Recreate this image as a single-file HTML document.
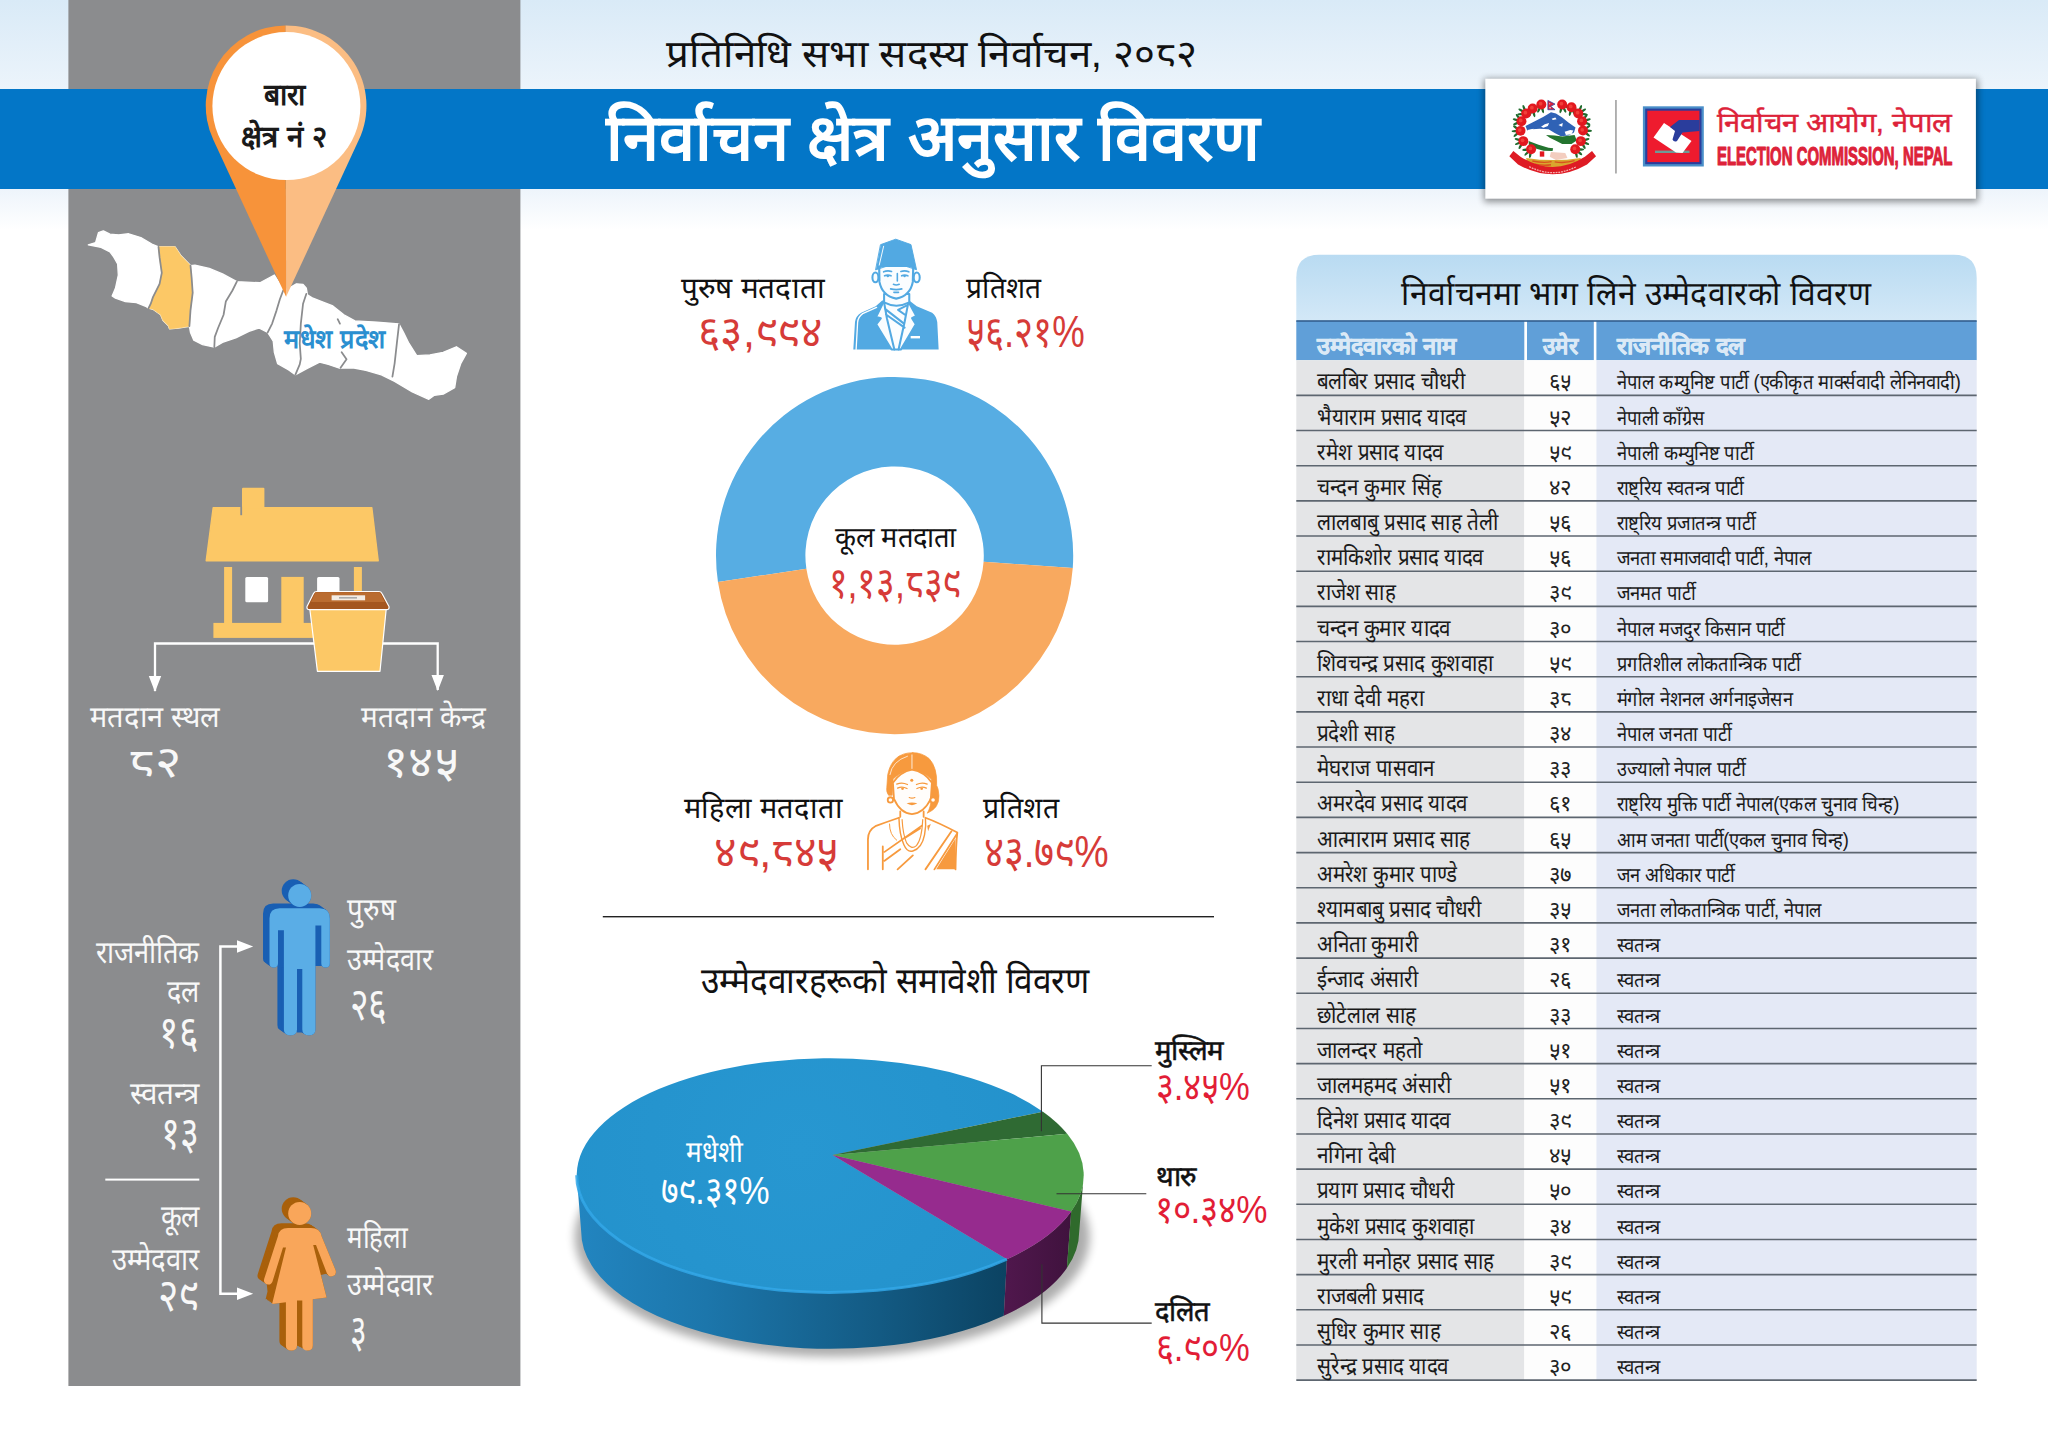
<!DOCTYPE html>
<html lang="ne">
<head>
<meta charset="utf-8">
<title>निर्वाचन क्षेत्र अनुसार विवरण - बारा क्षेत्र नं २</title>
<style>
html,body{margin:0;padding:0;background:#fff;}
body{width:2048px;height:1448px;overflow:hidden;font-family:"Liberation Sans",sans-serif;}
svg{display:block;font-family:"Liberation Sans",sans-serif;}
text{white-space:pre;}
</style>
</head>
<body>
<svg width="2048" height="1448" viewBox="0 0 2048 1448" lang="ne">
<!-- background -->
<defs>
<linearGradient id="gTop" x1="0" y1="0" x2="0" y2="1"><stop offset="0" stop-color="#d9eaf7"/><stop offset="1" stop-color="#ecf4fb"/></linearGradient>
<linearGradient id="gBot" x1="0" y1="0" x2="0" y2="1"><stop offset="0" stop-color="#edf4fb"/><stop offset="1" stop-color="#ffffff"/></linearGradient>
</defs>
<rect x="0" y="0" width="2048" height="1448" fill="#ffffff"/>
<rect x="0" y="0" width="2048" height="90" fill="url(#gTop)"/>
<rect x="0" y="188" width="2048" height="42" fill="url(#gBot)"/>
<rect x="68.4" y="0" width="452" height="1386" fill="#8b8c8e"/>
<rect x="0" y="89" width="2048" height="100" fill="#0376c7"/>
<!-- header_text -->
<text x="666.3" y="66.6" font-size="38.2" fill="#111" textLength="531.0" lengthAdjust="spacingAndGlyphs">प्रतिनिधि सभा सदस्य निर्वाचन, २०८२</text>
<text x="605.8" y="159.7" font-size="64.5" fill="#ffffff" font-weight="bold" textLength="654.8" lengthAdjust="spacingAndGlyphs">निर्वाचन क्षेत्र अनुसार विवरण</text>
<!-- table -->
<defs><linearGradient id="gTh" x1="0" y1="0" x2="0" y2="1"><stop offset="0" stop-color="#b9dbf2"/><stop offset="1" stop-color="#d3e8f7"/></linearGradient></defs>
<path d="M1296.3,321 V277.8 Q1296.3,254.8 1319.3,254.8 H1953.7 Q1976.7,254.8 1976.7,277.8 V321 Z" fill="url(#gTh)"/>
<text x="1401.3" y="305.0" font-size="33.5" fill="#111" textLength="469.3" lengthAdjust="spacingAndGlyphs">निर्वाचनमा भाग लिने उम्मेदवारको विवरण</text>
<rect x="1296.3" y="320.9" width="228.0" height="39.3" fill="#609fd8"/>
<rect x="1527.0" y="320.9" width="66.8" height="39.3" fill="#609fd8"/>
<rect x="1596.4" y="320.9" width="380.3" height="39.3" fill="#609fd8"/>
<rect x="1296.3" y="320.2" width="680.4" height="1.6" fill="#335f8e"/>
<text x="1316.9" y="354.3" font-size="23.5" fill="#dbe9f6" font-weight="bold" textLength="138.9" lengthAdjust="spacingAndGlyphs" stroke="#dbe9f6" stroke-width="0.5">उम्मेदवारको नाम</text>
<text x="1543.0" y="354.3" font-size="23.5" fill="#dbe9f6" font-weight="bold" textLength="35.1" lengthAdjust="spacingAndGlyphs" stroke="#dbe9f6" stroke-width="0.5">उमेर</text>
<text x="1616.8" y="354.3" font-size="23.5" fill="#dbe9f6" font-weight="bold" textLength="128.0" lengthAdjust="spacingAndGlyphs" stroke="#dbe9f6" stroke-width="0.5">राजनीतिक दल</text>
<rect x="1296.3" y="360.2" width="228.0" height="1019.9" fill="#e4e5e7"/>
<rect x="1524.3" y="360.2" width="72.1" height="1019.9" fill="#fdfdfd"/>
<rect x="1596.4" y="360.2" width="380.3" height="1019.9" fill="#e4e9f6"/>
<path d="M1296.3,395.37H1976.7M1296.3,430.54H1976.7M1296.3,465.71H1976.7M1296.3,500.88H1976.7M1296.3,536.05H1976.7M1296.3,571.22H1976.7M1296.3,606.39H1976.7M1296.3,641.56H1976.7M1296.3,676.73H1976.7M1296.3,711.90H1976.7M1296.3,747.07H1976.7M1296.3,782.24H1976.7M1296.3,817.41H1976.7M1296.3,852.58H1976.7M1296.3,887.75H1976.7M1296.3,922.92H1976.7M1296.3,958.09H1976.7M1296.3,993.26H1976.7M1296.3,1028.43H1976.7M1296.3,1063.60H1976.7M1296.3,1098.77H1976.7M1296.3,1133.94H1976.7M1296.3,1169.11H1976.7M1296.3,1204.28H1976.7M1296.3,1239.45H1976.7M1296.3,1274.62H1976.7M1296.3,1309.79H1976.7M1296.3,1344.96H1976.7M1296.3,1380.13H1976.7" stroke="#5d6670" stroke-width="1.6" fill="none"/>
<text x="1316.9" y="389.4" font-size="23.5" fill="#1a1a1a" textLength="148.4" lengthAdjust="spacingAndGlyphs">बलबिर प्रसाद चौधरी</text>
<text x="1549.3" y="389.4" font-size="22.0" fill="#222" textLength="22.2" lengthAdjust="spacingAndGlyphs">६५</text>
<text x="1616.8" y="389.4" font-size="20.5" fill="#1a1a1a" textLength="344.1" lengthAdjust="spacingAndGlyphs">नेपाल कम्युनिष्ट पार्टी (एकीकृत मार्क्सवादी लेनिनवादी)</text>
<text x="1316.9" y="424.6" font-size="23.5" fill="#1a1a1a" textLength="149.6" lengthAdjust="spacingAndGlyphs">भैयाराम प्रसाद यादव</text>
<text x="1549.3" y="424.6" font-size="22.0" fill="#222" textLength="22.2" lengthAdjust="spacingAndGlyphs">५२</text>
<text x="1616.8" y="424.6" font-size="20.5" fill="#1a1a1a" textLength="88.0" lengthAdjust="spacingAndGlyphs">नेपाली काँग्रेस</text>
<text x="1316.9" y="459.7" font-size="23.5" fill="#1a1a1a" textLength="126.8" lengthAdjust="spacingAndGlyphs">रमेश प्रसाद यादव</text>
<text x="1549.3" y="459.7" font-size="22.0" fill="#222" textLength="22.2" lengthAdjust="spacingAndGlyphs">५९</text>
<text x="1616.8" y="459.7" font-size="20.5" fill="#1a1a1a" textLength="136.3" lengthAdjust="spacingAndGlyphs">नेपाली कम्युनिष्ट पार्टी</text>
<text x="1316.9" y="494.9" font-size="23.5" fill="#1a1a1a" textLength="124.5" lengthAdjust="spacingAndGlyphs">चन्दन कुमार सिंह</text>
<text x="1549.3" y="494.9" font-size="22.0" fill="#222" textLength="22.2" lengthAdjust="spacingAndGlyphs">४२</text>
<text x="1616.8" y="494.9" font-size="20.5" fill="#1a1a1a" textLength="127.1" lengthAdjust="spacingAndGlyphs">राष्ट्रिय स्वतन्त्र पार्टी</text>
<text x="1316.9" y="530.1" font-size="23.5" fill="#1a1a1a" textLength="181.0" lengthAdjust="spacingAndGlyphs">लालबाबु प्रसाद साह तेली</text>
<text x="1549.3" y="530.1" font-size="22.0" fill="#222" textLength="22.2" lengthAdjust="spacingAndGlyphs">५६</text>
<text x="1616.8" y="530.1" font-size="20.5" fill="#1a1a1a" textLength="138.3" lengthAdjust="spacingAndGlyphs">राष्ट्रिय प्रजातन्त्र पार्टी</text>
<text x="1316.9" y="565.2" font-size="23.5" fill="#1a1a1a" textLength="166.8" lengthAdjust="spacingAndGlyphs">रामकिशोर प्रसाद यादव</text>
<text x="1549.3" y="565.2" font-size="22.0" fill="#222" textLength="22.2" lengthAdjust="spacingAndGlyphs">५६</text>
<text x="1616.8" y="565.2" font-size="20.5" fill="#1a1a1a" textLength="194.7" lengthAdjust="spacingAndGlyphs">जनता समाजवादी पार्टी, नेपाल</text>
<text x="1316.9" y="600.4" font-size="23.5" fill="#1a1a1a" textLength="78.3" lengthAdjust="spacingAndGlyphs">राजेश साह</text>
<text x="1549.3" y="600.4" font-size="22.0" fill="#222" textLength="22.2" lengthAdjust="spacingAndGlyphs">३९</text>
<text x="1616.8" y="600.4" font-size="20.5" fill="#1a1a1a" textLength="78.3" lengthAdjust="spacingAndGlyphs">जनमत पार्टी</text>
<text x="1316.9" y="635.6" font-size="23.5" fill="#1a1a1a" textLength="133.9" lengthAdjust="spacingAndGlyphs">चन्दन कुमार यादव</text>
<text x="1549.3" y="635.6" font-size="22.0" fill="#222" textLength="22.2" lengthAdjust="spacingAndGlyphs">३०</text>
<text x="1616.8" y="635.6" font-size="20.5" fill="#1a1a1a" textLength="167.8" lengthAdjust="spacingAndGlyphs">नेपाल मजदुर किसान पार्टी</text>
<text x="1316.9" y="670.8" font-size="23.5" fill="#1a1a1a" textLength="176.2" lengthAdjust="spacingAndGlyphs">शिवचन्द्र प्रसाद कुशवाहा</text>
<text x="1549.3" y="670.8" font-size="22.0" fill="#222" textLength="22.2" lengthAdjust="spacingAndGlyphs">५९</text>
<text x="1616.8" y="670.8" font-size="20.5" fill="#1a1a1a" textLength="183.6" lengthAdjust="spacingAndGlyphs">प्रगतिशील लोकतान्त्रिक पार्टी</text>
<text x="1316.9" y="705.9" font-size="23.5" fill="#1a1a1a" textLength="107.2" lengthAdjust="spacingAndGlyphs">राधा देवी महरा</text>
<text x="1549.3" y="705.9" font-size="22.0" fill="#222" textLength="22.2" lengthAdjust="spacingAndGlyphs">३८</text>
<text x="1616.8" y="705.9" font-size="20.5" fill="#1a1a1a" textLength="175.8" lengthAdjust="spacingAndGlyphs">मंगोल नेशनल अर्गनाइजेसन</text>
<text x="1316.9" y="741.1" font-size="23.5" fill="#1a1a1a" textLength="77.3" lengthAdjust="spacingAndGlyphs">प्रदेशी साह</text>
<text x="1549.3" y="741.1" font-size="22.0" fill="#222" textLength="22.2" lengthAdjust="spacingAndGlyphs">३४</text>
<text x="1616.8" y="741.1" font-size="20.5" fill="#1a1a1a" textLength="114.5" lengthAdjust="spacingAndGlyphs">नेपाल जनता पार्टी</text>
<text x="1316.9" y="776.3" font-size="23.5" fill="#1a1a1a" textLength="117.7" lengthAdjust="spacingAndGlyphs">मेघराज पासवान</text>
<text x="1549.3" y="776.3" font-size="22.0" fill="#222" textLength="22.2" lengthAdjust="spacingAndGlyphs">३३</text>
<text x="1616.8" y="776.3" font-size="20.5" fill="#1a1a1a" textLength="128.4" lengthAdjust="spacingAndGlyphs">उज्यालो नेपाल पार्टी</text>
<text x="1316.9" y="811.4" font-size="23.5" fill="#1a1a1a" textLength="150.7" lengthAdjust="spacingAndGlyphs">अमरदेव प्रसाद यादव</text>
<text x="1549.3" y="811.4" font-size="22.0" fill="#222" textLength="22.2" lengthAdjust="spacingAndGlyphs">६१</text>
<text x="1616.8" y="811.4" font-size="20.5" fill="#1a1a1a" textLength="282.6" lengthAdjust="spacingAndGlyphs">राष्ट्रिय मुक्ति पार्टी नेपाल(एकल चुनाव चिन्ह)</text>
<text x="1316.9" y="846.6" font-size="23.5" fill="#1a1a1a" textLength="152.9" lengthAdjust="spacingAndGlyphs">आत्माराम प्रसाद साह</text>
<text x="1549.3" y="846.6" font-size="22.0" fill="#222" textLength="22.2" lengthAdjust="spacingAndGlyphs">६५</text>
<text x="1616.8" y="846.6" font-size="20.5" fill="#1a1a1a" textLength="232.1" lengthAdjust="spacingAndGlyphs">आम जनता पार्टी(एकल चुनाव चिन्ह)</text>
<text x="1316.9" y="881.8" font-size="23.5" fill="#1a1a1a" textLength="140.7" lengthAdjust="spacingAndGlyphs">अमरेश कुमार पाण्डे</text>
<text x="1549.3" y="881.8" font-size="22.0" fill="#222" textLength="22.2" lengthAdjust="spacingAndGlyphs">३७</text>
<text x="1616.8" y="881.8" font-size="20.5" fill="#1a1a1a" textLength="117.7" lengthAdjust="spacingAndGlyphs">जन अधिकार पार्टी</text>
<text x="1316.9" y="917.0" font-size="23.5" fill="#1a1a1a" textLength="164.3" lengthAdjust="spacingAndGlyphs">श्यामबाबु प्रसाद चौधरी</text>
<text x="1549.3" y="917.0" font-size="22.0" fill="#222" textLength="22.2" lengthAdjust="spacingAndGlyphs">३५</text>
<text x="1616.8" y="917.0" font-size="20.5" fill="#1a1a1a" textLength="204.8" lengthAdjust="spacingAndGlyphs">जनता लोकतान्त्रिक पार्टी, नेपाल</text>
<text x="1316.9" y="952.1" font-size="23.5" fill="#1a1a1a" textLength="101.7" lengthAdjust="spacingAndGlyphs">अनिता कुमारी</text>
<text x="1549.3" y="952.1" font-size="22.0" fill="#222" textLength="22.2" lengthAdjust="spacingAndGlyphs">३१</text>
<text x="1616.8" y="952.1" font-size="20.5" fill="#1a1a1a" textLength="43.3" lengthAdjust="spacingAndGlyphs">स्वतन्त्र</text>
<text x="1316.9" y="987.3" font-size="23.5" fill="#1a1a1a" textLength="101.3" lengthAdjust="spacingAndGlyphs">ईन्जाद अंसारी</text>
<text x="1549.3" y="987.3" font-size="22.0" fill="#222" textLength="22.2" lengthAdjust="spacingAndGlyphs">२६</text>
<text x="1616.8" y="987.3" font-size="20.5" fill="#1a1a1a" textLength="43.3" lengthAdjust="spacingAndGlyphs">स्वतन्त्र</text>
<text x="1316.9" y="1022.5" font-size="23.5" fill="#1a1a1a" textLength="98.5" lengthAdjust="spacingAndGlyphs">छोटेलाल साह</text>
<text x="1549.3" y="1022.5" font-size="22.0" fill="#222" textLength="22.2" lengthAdjust="spacingAndGlyphs">३३</text>
<text x="1616.8" y="1022.5" font-size="20.5" fill="#1a1a1a" textLength="43.3" lengthAdjust="spacingAndGlyphs">स्वतन्त्र</text>
<text x="1316.9" y="1057.6" font-size="23.5" fill="#1a1a1a" textLength="105.4" lengthAdjust="spacingAndGlyphs">जालन्दर महतो</text>
<text x="1549.3" y="1057.6" font-size="22.0" fill="#222" textLength="22.2" lengthAdjust="spacingAndGlyphs">५१</text>
<text x="1616.8" y="1057.6" font-size="20.5" fill="#1a1a1a" textLength="43.3" lengthAdjust="spacingAndGlyphs">स्वतन्त्र</text>
<text x="1316.9" y="1092.8" font-size="23.5" fill="#1a1a1a" textLength="134.4" lengthAdjust="spacingAndGlyphs">जालमहमद अंसारी</text>
<text x="1549.3" y="1092.8" font-size="22.0" fill="#222" textLength="22.2" lengthAdjust="spacingAndGlyphs">५१</text>
<text x="1616.8" y="1092.8" font-size="20.5" fill="#1a1a1a" textLength="43.3" lengthAdjust="spacingAndGlyphs">स्वतन्त्र</text>
<text x="1316.9" y="1128.0" font-size="23.5" fill="#1a1a1a" textLength="133.7" lengthAdjust="spacingAndGlyphs">दिनेश प्रसाद यादव</text>
<text x="1549.3" y="1128.0" font-size="22.0" fill="#222" textLength="22.2" lengthAdjust="spacingAndGlyphs">३९</text>
<text x="1616.8" y="1128.0" font-size="20.5" fill="#1a1a1a" textLength="43.3" lengthAdjust="spacingAndGlyphs">स्वतन्त्र</text>
<text x="1316.9" y="1163.1" font-size="23.5" fill="#1a1a1a" textLength="78.3" lengthAdjust="spacingAndGlyphs">नगिना देबी</text>
<text x="1549.3" y="1163.1" font-size="22.0" fill="#222" textLength="22.2" lengthAdjust="spacingAndGlyphs">४५</text>
<text x="1616.8" y="1163.1" font-size="20.5" fill="#1a1a1a" textLength="43.3" lengthAdjust="spacingAndGlyphs">स्वतन्त्र</text>
<text x="1316.9" y="1198.3" font-size="23.5" fill="#1a1a1a" textLength="137.8" lengthAdjust="spacingAndGlyphs">प्रयाग प्रसाद चौधरी</text>
<text x="1549.3" y="1198.3" font-size="22.0" fill="#222" textLength="22.2" lengthAdjust="spacingAndGlyphs">५०</text>
<text x="1616.8" y="1198.3" font-size="20.5" fill="#1a1a1a" textLength="43.3" lengthAdjust="spacingAndGlyphs">स्वतन्त्र</text>
<text x="1316.9" y="1233.5" font-size="23.5" fill="#1a1a1a" textLength="157.2" lengthAdjust="spacingAndGlyphs">मुकेश प्रसाद कुशवाहा</text>
<text x="1549.3" y="1233.5" font-size="22.0" fill="#222" textLength="22.2" lengthAdjust="spacingAndGlyphs">३४</text>
<text x="1616.8" y="1233.5" font-size="20.5" fill="#1a1a1a" textLength="43.3" lengthAdjust="spacingAndGlyphs">स्वतन्त्र</text>
<text x="1316.9" y="1268.7" font-size="23.5" fill="#1a1a1a" textLength="176.5" lengthAdjust="spacingAndGlyphs">मुरली मनोहर प्रसाद साह</text>
<text x="1549.3" y="1268.7" font-size="22.0" fill="#222" textLength="22.2" lengthAdjust="spacingAndGlyphs">३९</text>
<text x="1616.8" y="1268.7" font-size="20.5" fill="#1a1a1a" textLength="43.3" lengthAdjust="spacingAndGlyphs">स्वतन्त्र</text>
<text x="1316.9" y="1303.8" font-size="23.5" fill="#1a1a1a" textLength="106.8" lengthAdjust="spacingAndGlyphs">राजबली प्रसाद</text>
<text x="1549.3" y="1303.8" font-size="22.0" fill="#222" textLength="22.2" lengthAdjust="spacingAndGlyphs">५९</text>
<text x="1616.8" y="1303.8" font-size="20.5" fill="#1a1a1a" textLength="43.3" lengthAdjust="spacingAndGlyphs">स्वतन्त्र</text>
<text x="1316.9" y="1339.0" font-size="23.5" fill="#1a1a1a" textLength="123.1" lengthAdjust="spacingAndGlyphs">सुधिर कुमार साह</text>
<text x="1549.3" y="1339.0" font-size="22.0" fill="#222" textLength="22.2" lengthAdjust="spacingAndGlyphs">२६</text>
<text x="1616.8" y="1339.0" font-size="20.5" fill="#1a1a1a" textLength="43.3" lengthAdjust="spacingAndGlyphs">स्वतन्त्र</text>
<text x="1316.9" y="1374.2" font-size="23.5" fill="#1a1a1a" textLength="131.7" lengthAdjust="spacingAndGlyphs">सुरेन्द्र प्रसाद यादव</text>
<text x="1549.3" y="1374.2" font-size="22.0" fill="#222" textLength="22.2" lengthAdjust="spacingAndGlyphs">३०</text>
<text x="1616.8" y="1374.2" font-size="20.5" fill="#1a1a1a" textLength="43.3" lengthAdjust="spacingAndGlyphs">स्वतन्त्र</text>
<!-- nepal_map -->
<g transform="translate(68,200) scale(0.2207)" stroke-linejoin="round">
<path d="M92,203 L125,193 L138,148 L160,140 L190,155 L230,158 L275,153 L330,170 L380,200 L410,212 L485,212 L510,250 L555,297 L575,295 L640,310 L700,335 L765,370 L870,375 L935,340 L960,380 L975,410 L1000,400 L1035,380 L1065,382 L1080,400 L1085,430 L1110,445 L1150,460 L1200,480 L1250,520 L1300,548 L1400,553 L1500,562 L1520,600 L1545,650 L1580,705 L1640,702 L1700,690 L1760,665 L1805,695 L1780,740 L1760,800 L1752,850 L1700,880 L1660,885 L1635,903 L1560,870 L1480,822 L1420,792 L1350,772 L1290,760 L1230,762 L1180,745 L1140,735 L1080,765 L1030,792 L1000,770 L950,742 L935,690 L930,640 L905,600 L865,580 L820,595 L760,625 L700,645 L663,667 L610,655 L570,635 L555,600 L550,572 L500,580 L460,584 L455,570 L430,545 L420,520 L385,495 L365,490 L355,483 L310,465 L260,460 L215,445 L200,435 L215,400 L228,340 L225,290 L205,255 L190,235 L150,215 Z" fill="#ffffff" stroke="#ffffff" stroke-width="6"/>
<path d="M410,212 L485,212 L510,250 L555,297 L560,350 L565,420 L555,500 L550,572 L500,580 L460,584 L455,570 L430,545 L420,520 L385,495 L365,490 L375,470 L385,440 L415,380 L425,330 L415,260 Z" fill="#fcc866" stroke="#fcc866" stroke-width="3"/>
<path d="M410,212 L415,260 L425,330 L415,380 L385,440 L375,470 L365,490 M555,297 L560,350 L565,420 L555,500 L550,572 M765,370 L745,410 L715,460 L705,520 L680,580 L665,620 L663,667 M975,410 L960,450 L945,500 L925,560 L905,600 M1080,425 L1065,470 L1055,560 L1050,650 L1055,720 L1050,745 L1030,792 M1222,540 L1232,560 M1240,690 L1262,722 L1235,760 M1500,562 L1490,650 L1480,740 L1470,800" fill="none" stroke="#8b8c8e" stroke-width="8" stroke-linecap="round"/>
</g>
<text x="284.3" y="348.3" font-size="26.0" fill="#2b8fd0" font-weight="bold" textLength="101.5" lengthAdjust="spacingAndGlyphs">मधेश प्रदेश</text>
<!-- pin -->
<path d="M285.6,25.39999999999999 A80.4,80.4 0 0 0 213.2,139.6 L286.1,296.8 Z" fill="#f7933a"/>
<path d="M285.6,25.39999999999999 A80.4,80.4 0 0 1 359.0,139.6 L286.1,296.8 Z" fill="#fbbd83"/>
<circle cx="286.40000000000003" cy="106.1" r="74.0" fill="#ffffff"/>
<text x="263.6" y="105.3" font-size="30.0" fill="#1a1a1a" font-weight="600" textLength="42.4" lengthAdjust="spacingAndGlyphs">बारा</text>
<text x="241.0" y="146.8" font-size="30.0" fill="#1a1a1a" font-weight="600" textLength="86.6" lengthAdjust="spacingAndGlyphs">क्षेत्र नं २</text>
<!-- house -->
<g fill="#fcc866">
<rect x="242" y="487.8" width="22.4" height="22" rx="1"/>
<path d="M213.2,507.6 H371.8 L378.2,560.8 H206.2 Z" stroke="#fcc866" stroke-width="1.4" stroke-linejoin="round"/>
<rect x="224.1" y="567" width="8" height="57"/>
<rect x="353.9" y="567" width="8" height="30"/>
<rect x="281.3" y="576.9" width="22.4" height="47"/>
<rect x="213.4" y="622.9" width="101" height="15"/>
</g>
<rect x="240.3" y="506.6" width="1.8" height="8.6" fill="#8b8c8e"/>
<rect x="245.3" y="576.9" width="22.8" height="25.3" rx="1.5" fill="#ffffff"/>
<rect x="317.1" y="576.9" width="22.4" height="20" rx="1.5" fill="#ffffff"/>
<path d="M155,691 V643.5 H320 M383,643.5 H437.7 V690" fill="none" stroke="#ffffff" stroke-width="2.3"/>
<path d="M148.8,676 H161.2 L155,692 Z M431.5,675 H443.9 L437.7,691 Z" fill="#ffffff"/>
<path d="M309.8,609 H386.2 L380,671.3 H317.4 Z" fill="#fcc866" stroke="#ffffff" stroke-width="1.2" stroke-linejoin="round"/>
<path d="M316.5,591.5 H379 Q381,591.5 382,593.5 L389,606.5 Q389.6,609.6 386.5,609.6 H309.5 Q306.4,609.6 307,606.5 L313.5,593.5 Q314.5,591.5 316.5,591.5 Z" fill="#a4561f" stroke="#ffffff" stroke-width="1.2" stroke-linejoin="round"/>
<path d="M315.5,592.3 H380 L384.8,602 H311 Z" fill="#ba6c30"/>
<rect x="331.6" y="595.3" width="33.5" height="5" fill="#f3ece4"/>
<rect x="339" y="597" width="18" height="1.6" fill="#a9a9a9"/>
<text x="89.9" y="727.3" font-size="29.7" fill="#f8f8f8" textLength="129.8" lengthAdjust="spacingAndGlyphs">मतदान स्थल</text>
<text x="361.4" y="727.3" font-size="29.7" fill="#f8f8f8" textLength="124.3" lengthAdjust="spacingAndGlyphs">मतदान केन्द्र</text>
<text x="128.0" y="777.0" font-size="44.0" fill="#f8f8f8" textLength="53.0" lengthAdjust="spacingAndGlyphs">८२</text>
<text x="383.0" y="777.0" font-size="44.0" fill="#f8f8f8" textLength="76.0" lengthAdjust="spacingAndGlyphs">१४५</text>
<!-- people -->
<defs>
<g id="manS"><circle cx="299.7" cy="895.4" r="11.5"/><path d="M269.5,918.4 Q269.5,908.2 279.7,908.2 H319.6 Q329.8,908.2 329.8,918.4 V963.2 Q329.8,967.5 325.55,967.5 Q321.3,967.5 321.3,963.2 V925.6 H315.4 V1029.5 Q315.4,1035.3 309,1035.3 Q302.3,1035.3 302.3,1029.5 V968.9 H297 V1029.5 Q297,1035.3 290.5,1035.3 Q283.9,1035.3 283.9,1029.5 V930.2 H278 V963.2 Q278,967.5 273.75,967.5 Q269.5,967.5 269.5,963.2 Z M278,930.2 H283.9 V967 H278 Z M315.4,925.6 H321.3 V966 H315.4 Z M297,968.9 H302.3 V1032.5 H297 Z"/></g>
<g id="womS"><circle cx="299.7" cy="1213.4" r="11.5"/><path d="M278,1236 Q279,1227.9 288,1227.9 H311 Q320,1227.9 321.5,1236 L335.5,1270 Q337,1274.5 333,1276 Q329,1277.5 327,1273.5 L321,1275 L326.6,1297.4 L312.8,1299.2 V1345.5 Q312.8,1350.5 307.5,1350.5 L297,1345.5 Q297,1350.5 291.4,1350.5 Q285.9,1350.5 285.9,1345.5 V1302.2 L272.1,1303.9 L274,1296 L272.5,1281.5 Q271,1285.5 267,1284.3 Q263,1283 264.3,1278.5 Z"/></g>
</defs>
<g fill="#195fb3"><use href="#manS" x="-6.5" y="-4.6"/><use href="#manS" x="-5.2" y="-3.7"/><use href="#manS" x="-3.9" y="-2.8"/><use href="#manS" x="-2.6" y="-1.8"/><use href="#manS" x="-1.3" y="-0.9"/><use href="#manS" x="0" y="0"/></g>
<circle cx="299.7" cy="895.4" r="11.5" fill="#5aade6"/><path d="M269.5,918.4 Q269.5,908.2 279.7,908.2 H319.6 Q329.8,908.2 329.8,918.4 V963.2 Q329.8,967.5 325.55,967.5 Q321.3,967.5 321.3,963.2 V925.6 H315.4 V1029.5 Q315.4,1035.3 309,1035.3 Q302.3,1035.3 302.3,1029.5 V968.9 H297 V1029.5 Q297,1035.3 290.5,1035.3 Q283.9,1035.3 283.9,1029.5 V930.2 H278 V963.2 Q278,967.5 273.75,967.5 Q269.5,967.5 269.5,963.2 Z" fill="#5aade6"/>
<g fill="#a9600b"><use href="#womS" x="-6.5" y="-4.6"/><use href="#womS" x="-5.2" y="-3.7"/><use href="#womS" x="-3.9" y="-2.8"/><use href="#womS" x="-2.6" y="-1.8"/><use href="#womS" x="-1.3" y="-0.9"/><use href="#womS" x="0" y="0"/></g>
<circle cx="299.7" cy="1213.4" r="11.5" fill="#f9a65a"/><path d="M278,1236 Q279,1227.9 288,1227.9 H311 Q320,1227.9 321.5,1236 L335.5,1270 Q337,1274.5 333,1276 Q329,1277.5 327,1273.5 L316,1245 H313.2 L326.6,1297.4 L312.8,1299.2 V1345.5 Q312.8,1350.5 307.5,1350.5 Q302.3,1350.5 302.3,1345.5 V1300.6 H297 V1345.5 Q297,1350.5 291.4,1350.5 Q285.9,1350.5 285.9,1345.5 V1302.2 L272.1,1303.9 L286,1247.5 H283 L272.5,1281.5 Q271,1285.5 267,1284.3 Q263,1283 264.3,1278.5 Z" fill="#f9a65a"/>
<path d="M240,946.5 H220.4 V1293.8 H240" fill="none" stroke="#ffffff" stroke-width="2.5"/>
<path d="M237,940.2 L253.2,946.5 L237,952.8 Z M237,1287.5 L253.2,1293.8 L237,1300.1 Z" fill="#ffffff"/>
<rect x="105.3" y="1178.6" width="94" height="2" fill="#ffffff"/>
<text x="96.0" y="962.6" font-size="31.4" fill="#f8f8f8" textLength="103.3" lengthAdjust="spacingAndGlyphs">राजनीतिक</text>
<text x="166.8" y="1001.7" font-size="31.4" fill="#f8f8f8" textLength="32.5" lengthAdjust="spacingAndGlyphs">दल</text>
<text x="159.4" y="1048.4" font-size="46.0" fill="#f8f8f8" textLength="39.1" lengthAdjust="spacingAndGlyphs">१६</text>
<text x="129.5" y="1104.3" font-size="31.4" fill="#f8f8f8" textLength="69.8" lengthAdjust="spacingAndGlyphs">स्वतन्त्र</text>
<text x="160.5" y="1149.0" font-size="46.0" fill="#f8f8f8" textLength="38.0" lengthAdjust="spacingAndGlyphs">१३</text>
<text x="160.5" y="1226.6" font-size="31.4" fill="#f8f8f8" textLength="38.8" lengthAdjust="spacingAndGlyphs">कूल</text>
<text x="112.0" y="1270.3" font-size="31.4" fill="#f8f8f8" textLength="87.3" lengthAdjust="spacingAndGlyphs">उम्मेदवार</text>
<text x="157.5" y="1311.3" font-size="46.0" fill="#f8f8f8" textLength="41.0" lengthAdjust="spacingAndGlyphs">२९</text>
<text x="347.0" y="920.3" font-size="31.4" fill="#f8f8f8" textLength="48.5" lengthAdjust="spacingAndGlyphs">पुरुष</text>
<text x="347.0" y="970.0" font-size="31.4" fill="#f8f8f8" textLength="85.8" lengthAdjust="spacingAndGlyphs">उम्मेदवार</text>
<text x="349.6" y="1020.4" font-size="46.0" fill="#f8f8f8" textLength="37.3" lengthAdjust="spacingAndGlyphs">२६</text>
<text x="347.0" y="1247.9" font-size="31.4" fill="#f8f8f8" textLength="60.4" lengthAdjust="spacingAndGlyphs">महिला</text>
<text x="347.0" y="1294.5" font-size="31.4" fill="#f8f8f8" textLength="85.8" lengthAdjust="spacingAndGlyphs">उम्मेदवार</text>
<text x="349.6" y="1347.0" font-size="46.0" fill="#f8f8f8" textLength="16.8" lengthAdjust="spacingAndGlyphs">३</text>
<!-- donut -->
<path d="M717.96,582.00 A178.6,178.6 0 1 1 1072.76,568.06 L983.58,561.82 A89.2,89.2 0 1 0 806.38,568.78 Z" fill="#57ade3"/>
<path d="M1072.76,568.06 A178.6,178.6 0 0 1 717.96,582.00 L806.38,568.78 A89.2,89.2 0 0 0 983.58,561.82 Z" fill="#f8a95f"/>
<text x="834.7" y="547.0" font-size="28.6" fill="#111" textLength="121.2" lengthAdjust="spacingAndGlyphs">कूल मतदाता</text>
<text x="828.7" y="598.3" font-size="44.0" fill="#d63b38" textLength="132.5" lengthAdjust="spacingAndGlyphs">१,१३,८३९</text>
<!-- voters_text -->
<text x="680.9" y="298.4" font-size="29.2" fill="#111" textLength="144.3" lengthAdjust="spacingAndGlyphs">पुरुष मतदाता</text>
<text x="698.0" y="346.8" font-size="44.0" fill="#d63b38" textLength="124.4" lengthAdjust="spacingAndGlyphs">६३,९९४</text>
<text x="965.7" y="298.4" font-size="29.2" fill="#111" textLength="76.0" lengthAdjust="spacingAndGlyphs">प्रतिशत</text>
<text x="965.7" y="346.8" font-size="44.0" fill="#d63b38" textLength="119.2" lengthAdjust="spacingAndGlyphs">५६.२१%</text>
<text x="684.1" y="818.0" font-size="29.2" fill="#111" textLength="158.4" lengthAdjust="spacingAndGlyphs">महिला मतदाता</text>
<text x="714.0" y="867.4" font-size="44.0" fill="#d63b38" textLength="125.0" lengthAdjust="spacingAndGlyphs">४९,८४५</text>
<text x="982.5" y="818.0" font-size="29.2" fill="#111" textLength="76.9" lengthAdjust="spacingAndGlyphs">प्रतिशत</text>
<text x="983.6" y="867.4" font-size="44.0" fill="#d63b38" textLength="125.1" lengthAdjust="spacingAndGlyphs">४३.७९%</text>
<!-- man_icon -->
<g transform="translate(830,225) scale(0.09326)" stroke-linejoin="round" stroke-linecap="round">
<path d="M560,810 L490,872 L335,940 Q275,975 268,1040 L250,1335 H1165 L1150,1040 Q1140,975 1095,940 L930,872 L850,810 Z" fill="#52a9e2"/>
<path d="M500,884 L350,950 Q300,985 296,1045 L280,1335" fill="none" stroke="#ffffff" stroke-width="14"/>
<path d="M575,820 L840,820 L925,975 L880,1000 L920,1065 L760,1335 L660,1335 L495,1065 L545,1000 L495,985 Z" fill="#fafdff" stroke="#52a9e2" stroke-width="22"/>
<path d="M580,830 L610,1000 L690,1335 M840,830 L800,1040 L735,1335 M590,900 L790,1055 M600,960 L800,1100 M830,860 L730,910 L800,960" fill="none" stroke="#52a9e2" stroke-width="22"/>
<rect x="865" y="1190" width="100" height="26" fill="#ffffff"/>
<path d="M580,740 V830 Q710,900 850,830 V740 Z" fill="#fafdff" stroke="#52a9e2" stroke-width="22"/>
<ellipse cx="487" cy="562" rx="32" ry="52" fill="#fafdff" stroke="#52a9e2" stroke-width="22"/>
<ellipse cx="930" cy="562" rx="32" ry="52" fill="#fafdff" stroke="#52a9e2" stroke-width="22"/>
<path d="M527,440 L530,610 Q560,760 710,790 Q860,760 888,610 L893,440 Z" fill="#fafdff" stroke="#52a9e2" stroke-width="23"/>
<path d="M545,210 L705,152 L868,210 L928,480 Q710,385 492,480 Z" fill="#52a9e2" stroke="#52a9e2" stroke-width="10"/>
<path d="M575,228 L528,430" stroke="#ffffff" stroke-width="10" fill="none"/>
<path d="M575,502 Q615,485 660,498 M760,498 Q805,485 845,502 M585,545 Q618,530 655,545 M768,545 Q800,530 835,545 M722,520 V600 M680,636 Q710,650 742,636 M650,685 Q710,700 770,685 M685,722 H735" fill="none" stroke="#52a9e2" stroke-width="17"/>
<circle cx="620" cy="548" r="13" fill="#52a9e2"/><circle cx="800" cy="548" r="13" fill="#52a9e2"/>
</g>
<!-- woman_icon -->
<g transform="translate(850,745) scale(0.0898)" stroke-linejoin="round" stroke-linecap="round" fill="none" stroke="#f79a3e" stroke-width="20">
<path d="M700,85 Q470,85 420,330 L410,470 Q400,520 430,560 L470,560 L480,380 Q560,300 690,270 Q820,300 905,380 L910,560 Q900,700 860,760 Q1000,700 990,560 Q985,480 965,450 Q975,250 880,150 Q800,85 700,85 Z" fill="#f79a3e" stroke-width="8"/>
<path d="M690,110 V275" stroke="#fff" stroke-width="9"/>
<path d="M445,330 Q470,180 640,125" stroke="#fff" stroke-width="8"/>
<path d="M478,420 L490,600 Q560,760 690,770 Q820,760 900,600 L912,420 Q830,300 690,275 Q560,300 478,420 Z" fill="#fffdfb"/>
<circle cx="688" cy="392" r="17" fill="#f79a3e" stroke="none"/>
<path d="M520,435 Q580,410 640,440 M740,440 Q800,410 860,435 M530,480 Q580,455 635,485 M745,485 Q800,455 850,480 M660,585 Q690,600 722,585" stroke-width="14"/>
<ellipse cx="585" cy="488" rx="16" ry="12" fill="#f79a3e" stroke="none"/><ellipse cx="798" cy="488" rx="16" ry="12" fill="#f79a3e" stroke="none"/>
<path d="M630,650 Q690,630 750,650 Q690,690 630,650 Z" fill="#f79a3e" stroke="none"/>
<circle cx="450" cy="612" r="30" fill="#fffdfb"/><circle cx="925" cy="612" r="30" fill="#fffdfb"/>
<path d="M560,740 V800 M820,740 V800"/>
<path d="M545,810 Q400,860 290,900 Q200,950 200,1050 V1385 M840,810 Q1000,870 1195,975 Q1180,1100 1175,1385"/>
<path d="M545,810 Q550,1000 600,1110 Q640,1200 700,1180 Q800,1150 830,1000 Q850,900 840,810" stroke-width="16"/>
<path d="M580,830 Q590,1000 630,1090 Q680,1170 740,1120 Q800,1050 810,830" stroke-width="13"/>
<path d="M440,880 Q440,1000 520,1060" stroke-width="11"/>
<path d="M365,1130 V1385 M385,1190 L800,900 M385,1290 L560,1160 M530,1385 L700,1230 M620,1030 L780,930"/>
<path d="M840,1385 L1130,960 M940,1385 L1190,990"/>
<path d="M960,1385 L1175,1040 V1385 Z" fill="#f79a3e" stroke="none"/>
<path d="M860,900 L900,880 L870,960 Z" fill="#f79a3e" stroke="none"/>
</g>
<!-- divider -->
<rect x="602.8" y="916" width="611.2" height="1.4" fill="#222"/>
<text x="700.8" y="993.4" font-size="36.0" fill="#111" textLength="388.5" lengthAdjust="spacingAndGlyphs">उम्मेदवारहरूको समावेशी विवरण</text>
<!-- pie -->
<defs>
<filter id="fPie" x="-20%" y="-40%" width="140%" height="180%"><feGaussianBlur stdDeviation="5"/></filter>
<linearGradient id="gBlueSide" gradientUnits="userSpaceOnUse" x1="577" y1="0" x2="1010" y2="0">
<stop offset="0" stop-color="#2285c0"/><stop offset="0.3" stop-color="#1c76ab"/><stop offset="0.7" stop-color="#135a83"/><stop offset="1" stop-color="#0b4261"/></linearGradient>
<linearGradient id="gPurSide" gradientUnits="userSpaceOnUse" x1="1009" y1="0" x2="1073" y2="0"><stop offset="0" stop-color="#4f174c"/><stop offset="1" stop-color="#3f123d"/></linearGradient>
<radialGradient id="gBlueTop" gradientUnits="userSpaceOnUse" cx="800" cy="1150" r="300"><stop offset="0" stop-color="#2797d1"/><stop offset="1" stop-color="#2391cb"/></radialGradient>
</defs>
<ellipse cx="832.2" cy="1236.8" rx="257.5" ry="120.0" fill="#000" opacity="0.32" filter="url(#fPie)"/>
<path d="M1006.9,1259.2 A253.5,117.0 0 0 1 576.7,1175.3 L581.2,1231.8 A249.0,117.0 0 0 0 1003.8,1315.7 Z" fill="url(#gBlueSide)"/>
<path d="M1071.2,1211.6 A253.5,117.0 0 0 1 1006.9,1259.2 L1003.8,1315.7 A249.0,117.0 0 0 0 1066.9,1268.1 Z" fill="url(#gPurSide)"/>
<path d="M1083.7,1175.3 A253.5,117.0 0 0 1 1071.2,1211.6 L1066.9,1268.1 A249.0,117.0 0 0 0 1079.2,1231.8 Z" fill="#2f6a2c"/>
<path d="M832.6,1154.9 L1006.9,1259.2 A253.5,117.0 0 1 1 1043.0,1111.7 Z" fill="url(#gBlueTop)"/>
<path d="M832.6,1154.9 L1043.0,1111.7 A253.5,117.0 0 0 1 1067.2,1133.8 Z" fill="#2f6a33"/>
<path d="M832.6,1154.9 L1067.2,1133.8 A253.5,117.0 0 0 1 1071.2,1211.6 Z" fill="#4ea14a"/>
<path d="M832.6,1154.9 L1071.2,1211.6 A253.5,117.0 0 0 1 1006.9,1259.2 Z" fill="#962b8e"/>
<path d="M1006.9,1259.2 A253.5,117.0 0 0 1 576.7,1175.3" fill="none" stroke="#31a7e8" stroke-width="3" opacity="0.85"/>
<path d="M1151.7,1065.7 H1041.4 V1131.3 M1146.3,1193.7 H1056.5 M1151.7,1323.1 H1041.9 V1264.3" fill="none" stroke="#333" stroke-width="1.1"/>
<text x="686.2" y="1162.2" font-size="29.8" fill="#ffffff" textLength="56.4" lengthAdjust="spacingAndGlyphs">मधेशी</text>
<text x="660.7" y="1203.8" font-size="39.0" fill="#ffffff" textLength="108.8" lengthAdjust="spacingAndGlyphs">७९.३१%</text>
<text x="1154.5" y="1060.4" font-size="28.3" fill="#111" textLength="69.2" lengthAdjust="spacingAndGlyphs" stroke="#111" stroke-width="0.55">मुस्लिम</text>
<text x="1156.0" y="1100.3" font-size="39.0" fill="#e21d36" textLength="93.7" lengthAdjust="spacingAndGlyphs">३.४५%</text>
<text x="1156.0" y="1185.8" font-size="28.3" fill="#111" textLength="41.0" lengthAdjust="spacingAndGlyphs" stroke="#111" stroke-width="0.55">थारु</text>
<text x="1154.5" y="1223.3" font-size="39.0" fill="#e21d36" textLength="113.0" lengthAdjust="spacingAndGlyphs">१०.३४%</text>
<text x="1154.5" y="1321.3" font-size="28.3" fill="#111" textLength="55.0" lengthAdjust="spacingAndGlyphs" stroke="#111" stroke-width="0.55">दलित</text>
<text x="1156.0" y="1361.2" font-size="39.0" fill="#e21d36" textLength="93.7" lengthAdjust="spacingAndGlyphs">६.९०%</text>
<!-- logo -->
<defs><filter id="fBox" x="-10%" y="-30%" width="120%" height="160%"><feGaussianBlur stdDeviation="3.6"/></filter></defs>
<rect x="1484" y="79" width="494" height="123" fill="#000" opacity="0.42" filter="url(#fBox)"/>
<rect x="1485.3" y="78.7" width="490.6" height="120" fill="#ffffff"/>
<rect x="1615.2" y="100" width="1.5" height="73.5" fill="#9a9a9a"/>
<g transform="translate(1500,92) scale(0.06217)">
<g fill="#1f6b2e"><ellipse cx="685" cy="286" rx="56" ry="19" transform="rotate(77 685 286)"/><ellipse cx="628" cy="280" rx="56" ry="19" transform="rotate(115 628 280)"/><ellipse cx="587" cy="240" rx="56" ry="19" transform="rotate(153 587 240)"/><ellipse cx="545" cy="351" rx="56" ry="19" transform="rotate(77 545 351)"/><ellipse cx="488" cy="345" rx="56" ry="19" transform="rotate(115 488 345)"/><ellipse cx="447" cy="305" rx="56" ry="19" transform="rotate(153 447 305)"/><ellipse cx="333" cy="355" rx="56" ry="19" transform="rotate(-186 333 355)"/><ellipse cx="345" cy="299" rx="56" ry="19" transform="rotate(-148 345 299)"/><ellipse cx="389" cy="263" rx="56" ry="19" transform="rotate(-110 389 263)"/><ellipse cx="264" cy="505" rx="56" ry="19" transform="rotate(-203 264 505)"/><ellipse cx="260" cy="447" rx="56" ry="19" transform="rotate(-165 260 447)"/><ellipse cx="292" cy="400" rx="56" ry="19" transform="rotate(-127 292 400)"/><ellipse cx="263" cy="683" rx="56" ry="19" transform="rotate(139 263 683)"/><ellipse cx="242" cy="629" rx="56" ry="19" transform="rotate(177 242 629)"/><ellipse cx="258" cy="574" rx="56" ry="19" transform="rotate(215 258 574)"/><ellipse cx="332" cy="867" rx="56" ry="19" transform="rotate(120 332 867)"/><ellipse cx="294" cy="824" rx="56" ry="19" transform="rotate(158 294 824)"/><ellipse cx="290" cy="766" rx="56" ry="19" transform="rotate(196 290 766)"/><ellipse cx="487" cy="1007" rx="56" ry="19" transform="rotate(98 487 1007)"/><ellipse cx="436" cy="981" rx="56" ry="19" transform="rotate(136 436 981)"/><ellipse cx="412" cy="929" rx="56" ry="19" transform="rotate(174 412 929)"/><ellipse cx="1078" cy="240" rx="56" ry="19" transform="rotate(27 1078 240)"/><ellipse cx="1037" cy="280" rx="56" ry="19" transform="rotate(65 1037 280)"/><ellipse cx="980" cy="286" rx="56" ry="19" transform="rotate(103 980 286)"/><ellipse cx="1228" cy="285" rx="56" ry="19" transform="rotate(27 1228 285)"/><ellipse cx="1187" cy="325" rx="56" ry="19" transform="rotate(65 1187 325)"/><ellipse cx="1130" cy="331" rx="56" ry="19" transform="rotate(103 1130 331)"/><ellipse cx="1292" cy="263" rx="56" ry="19" transform="rotate(-69 1292 263)"/><ellipse cx="1335" cy="300" rx="56" ry="19" transform="rotate(-31 1335 300)"/><ellipse cx="1347" cy="356" rx="56" ry="19" transform="rotate(7 1347 356)"/><ellipse cx="1373" cy="400" rx="56" ry="19" transform="rotate(-53 1373 400)"/><ellipse cx="1405" cy="447" rx="56" ry="19" transform="rotate(-15 1405 447)"/><ellipse cx="1401" cy="504" rx="56" ry="19" transform="rotate(23 1401 504)"/><ellipse cx="1406" cy="569" rx="56" ry="19" transform="rotate(-36 1406 569)"/><ellipse cx="1423" cy="624" rx="56" ry="19" transform="rotate(2 1423 624)"/><ellipse cx="1402" cy="677" rx="56" ry="19" transform="rotate(40 1402 677)"/><ellipse cx="1385" cy="766" rx="56" ry="19" transform="rotate(-16 1385 766)"/><ellipse cx="1381" cy="823" rx="56" ry="19" transform="rotate(22 1381 823)"/><ellipse cx="1344" cy="866" rx="56" ry="19" transform="rotate(60 1344 866)"/><ellipse cx="1298" cy="924" rx="56" ry="19" transform="rotate(2 1298 924)"/><ellipse cx="1277" cy="977" rx="56" ry="19" transform="rotate(40 1277 977)"/><ellipse cx="1228" cy="1006" rx="56" ry="19" transform="rotate(78 1228 1006)"/></g>
<path d="M440,640 L640,600 L780,620 L900,720 L1000,800 L1150,790 L1200,850 L1180,960 L1050,1000 L900,950 L780,900 L620,850 L470,790 L440,700 Z" fill="#ffffff"/>
<path d="M410,545 L560,470 L700,400 L820,325 L900,345 L1000,410 L1100,490 L1215,570 L1190,650 L1100,700 L980,710 L880,660 L780,600 L640,590 L520,600 L440,625 Z" fill="#2f62b5"/>
<path d="M660,560 L720,520 L790,500 L770,545 L700,575 Z M830,430 L890,410 L910,440 L850,450 Z M940,530 L1010,500 L1000,560 Z M1040,640 L1130,610 L1180,620 L1150,680 L1060,690 Z M440,610 L540,590 L520,625 L450,640 Z" fill="#ffffff"/>
<path d="M740,690 L880,700 L1000,715 L1100,705 L1200,690 L1235,780 L1150,835 L1000,835 L900,785 L800,735 Z" fill="#24742f"/>
<path d="M460,790 L620,850 L780,895 L855,905 L845,950 L700,945 L560,905 L465,855 Z" fill="#24742f"/>
<g fill="#e2181f"><circle cx="665" cy="200" r="80"/><circle cx="525" cy="265" r="80"/><circle cx="420" cy="345" r="80"/><circle cx="345" cy="470" r="80"/><circle cx="330" cy="625" r="80"/><circle cx="375" cy="790" r="80"/><circle cx="500" cy="920" r="80"/><circle cx="1000" cy="200" r="80"/><circle cx="1150" cy="245" r="80"/><circle cx="1260" cy="345" r="80"/><circle cx="1320" cy="470" r="80"/><circle cx="1335" cy="620" r="80"/><circle cx="1300" cy="790" r="80"/><circle cx="1210" cy="920" r="80"/></g>
<g fill="#f0403a"><circle cx="653" cy="188" r="30"/><circle cx="513" cy="253" r="30"/><circle cx="408" cy="333" r="30"/><circle cx="333" cy="458" r="30"/><circle cx="318" cy="613" r="30"/><circle cx="363" cy="778" r="30"/><circle cx="488" cy="908" r="30"/><circle cx="988" cy="188" r="30"/><circle cx="1138" cy="233" r="30"/><circle cx="1248" cy="333" r="30"/><circle cx="1308" cy="458" r="30"/><circle cx="1323" cy="608" r="30"/><circle cx="1288" cy="778" r="30"/><circle cx="1198" cy="908" r="30"/></g>
<path d="M640,955 H712 V1040 H640 Z" fill="#e2181f"/>
<path d="M820,965 L1050,980 L1085,1060 L900,1092 L800,1040 Z" fill="#f3cdbf"/>
<path d="M420,1060 Q850,1130 1300,1060 L1255,1200 Q850,1260 450,1200 Z" fill="#d9a72e"/>
<path d="M520,1110 Q700,1150 830,1120 M880,1125 Q1050,1150 1200,1105 M560,1160 Q700,1190 820,1170" stroke="#d9531e" stroke-width="22" fill="none"/>
<path d="M150,1035 L215,948 L330,1040 Q850,1370 1365,1040 L1480,948 L1545,1035 L1400,1165 Q850,1480 290,1165 Z" fill="#de1b24"/>
<path d="M470,1200 Q850,1395 1230,1200" stroke="#f7b0b0" stroke-width="20" fill="none" stroke-dasharray="30 14"/>
<path d="M770,135 L770,285 L885,285 L815,230 L885,195 Z" fill="#dc1f3a" stroke="#2b3f9e" stroke-width="12" stroke-linejoin="miter"/>
<circle cx="805" cy="255" r="12" fill="#fff"/><circle cx="800" cy="190" r="9" fill="#fff"/>
</g>
<rect x="1642.9" y="106.3" width="60.9" height="60.2" fill="#4a8fc9"/>
<rect x="1645.2" y="108.6" width="56.3" height="55.6" fill="#2a3d9c"/>
<rect x="1647.3" y="110.7" width="52.1" height="51.4" fill="#ee1b2e"/>
<rect x="1655" y="150.6" width="34.5" height="2.4" fill="#6f9a96"/>
<path d="M1664,123 L1691.5,141 L1682.5,153 L1676,152.6 L1653.5,137.5 Z" fill="#ffffff"/>
<path d="M1699.4,120 H1679 L1670,127 L1675,131 L1672.5,139.5 Q1674,142.5 1677,141 L1682.5,132.5 L1699.4,131 Z" fill="#2a3d9c"/>
<text x="1717.0" y="131.8" font-size="27.5" fill="#dd2239" textLength="235.4" lengthAdjust="spacingAndGlyphs" stroke="#dd2239" stroke-width="0.45">निर्वाचन आयोग, नेपाल</text>
<text x="1717.0" y="164.8" font-size="25.0" fill="#dd2239" font-weight="bold" textLength="235.4" lengthAdjust="spacingAndGlyphs" stroke="#dd2239" stroke-width="1.1" stroke-linejoin="round">ELECTION COMMISSION, NEPAL</text>
</svg>
</body>
</html>
